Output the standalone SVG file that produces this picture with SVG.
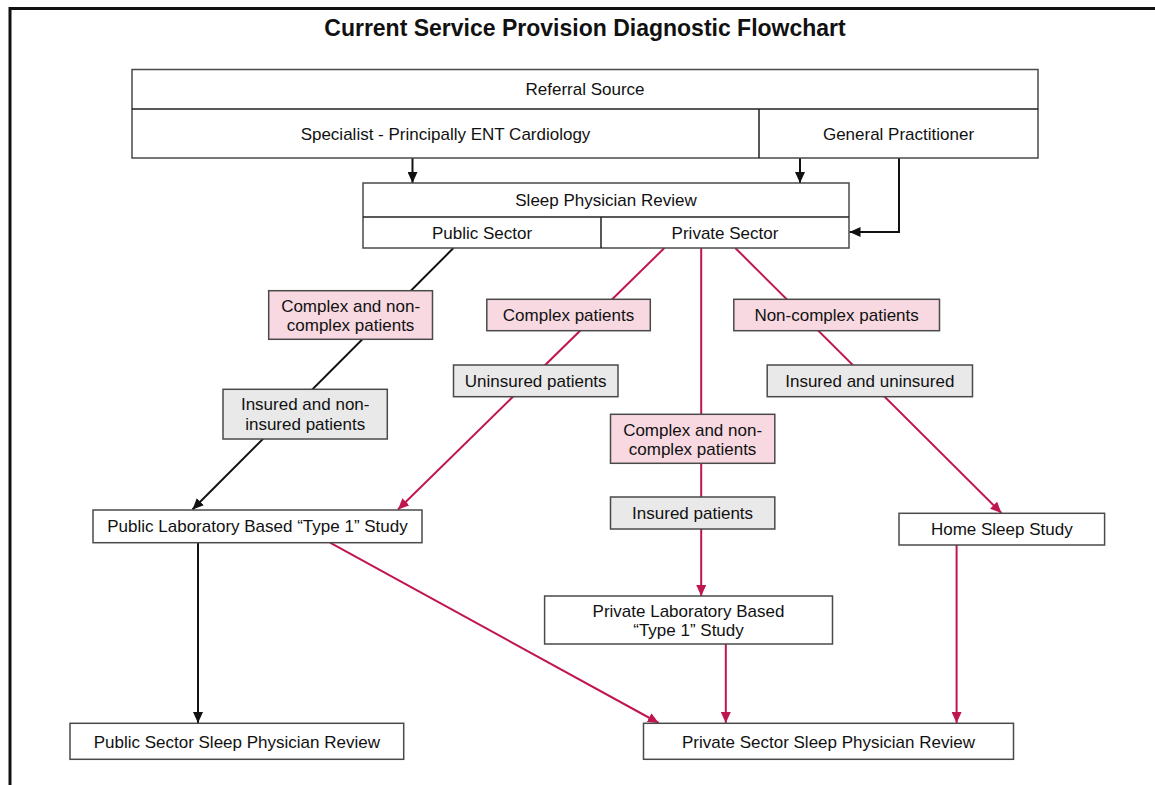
<svg xmlns="http://www.w3.org/2000/svg" width="1155" height="785" viewBox="0 0 1155 785">
  <defs>
    <marker id="ahB" markerUnits="userSpaceOnUse" markerWidth="12" markerHeight="10" viewBox="0 0 12 10" refX="11" refY="5" orient="auto">
      <path d="M0,0 L11,5 L0,10 z" fill="#111"/>
    </marker>
    <marker id="ahR" markerUnits="userSpaceOnUse" markerWidth="12" markerHeight="10" viewBox="0 0 12 10" refX="11" refY="5" orient="auto">
      <path d="M0,0 L11,5 L0,10 z" fill="#c0164e"/>
    </marker>
  </defs>
  <style>
    text { font-family: "Liberation Sans", Arial, sans-serif; font-size: 17px; fill: #111; text-anchor: middle; }
    .title { font-size: 23px; font-weight: bold; }
    .box { fill: #fff; stroke: #4a4a4a; stroke-width: 1.5; }
    .pink { fill: #f8d9e1; stroke: #4a4a4a; stroke-width: 1.5; }
    .gray { fill: #e9e9e9; stroke: #4a4a4a; stroke-width: 1.5; }
    .div { stroke: #222; stroke-width: 1.5; fill: none; }
    .cb { stroke: #111; stroke-width: 2; fill: none; marker-end: url(#ahB); }
    .cr { stroke: #c0164e; stroke-width: 2; fill: none; marker-end: url(#ahR); }
  </style>
  <rect x="0" y="0" width="1155" height="785" fill="#fff"/>
  <path d="M10,790 V8.5 H1160" fill="none" stroke="#111" stroke-width="3"/>
  <text class="title" x="585" y="36">Current Service Provision Diagnostic Flowchart</text>

  <g id="connectors">
    <path class="cb" d="M412.5,158 V183"/>
    <path class="cb" d="M800,158 V183"/>
    <path class="cb" d="M899,158 V232 H849.5"/>
    <path class="cb" d="M453.5,248 L192.5,509.5"/>
    <path class="cb" d="M198,542.7 V723"/>
    <path class="cr" d="M664.4,248 L398,509.5"/>
    <path class="cr" d="M701.2,248 V596"/>
    <path class="cr" d="M735.3,248 L1001.4,513"/>
    <path class="cr" d="M330,542.7 L658.7,723"/>
    <path class="cr" d="M725.8,644 V723"/>
    <path class="cr" d="M956.6,545 V723"/>
  </g>

  <g id="referral-source">
    <rect class="box" x="132" y="69.5" width="906" height="88.5"/>
    <path class="div" d="M132,109 H1038 M759,109 V158"/>
    <text x="585" y="95">Referral Source</text>
    <text x="445.5" y="139.5">Specialist - Principally ENT Cardiology</text>
    <text x="898.5" y="139.5">General Practitioner</text>
  </g>

  <g id="sleep-physician-review">
    <rect class="box" x="363" y="183" width="486" height="65"/>
    <path class="div" d="M363,217 H849 M601,217 V248"/>
    <text x="606" y="206">Sleep Physician Review</text>
    <text x="482" y="239">Public Sector</text>
    <text x="725" y="239">Private Sector</text>
  </g>

  <g id="public-complex">
    <rect class="pink" x="268.7" y="290.7" width="163.8" height="48.6"/>
    <text x="350.6" y="311.7">Complex and non-</text>
    <text x="350.6" y="331.3">complex patients</text>
  </g>
  <g id="public-insured">
    <rect class="gray" x="223" y="389.3" width="164.3" height="49.7"/>
    <text x="305.2" y="410.3">Insured and non-</text>
    <text x="305.2" y="430.3">insured patients</text>
  </g>
  <g id="complex-patients">
    <rect class="pink" x="486.8" y="299.3" width="163.5" height="31.4"/>
    <text x="568.5" y="321">Complex patients</text>
  </g>
  <g id="uninsured-patients">
    <rect class="gray" x="453.5" y="365" width="164.5" height="31.7"/>
    <text x="535.7" y="387">Uninsured patients</text>
  </g>
  <g id="non-complex-patients">
    <rect class="pink" x="733.8" y="299.3" width="205.7" height="31.4"/>
    <text x="836.6" y="321">Non-complex patients</text>
  </g>
  <g id="insured-and-uninsured">
    <rect class="gray" x="767.2" y="365" width="205.3" height="31.7"/>
    <text x="869.8" y="387">Insured and uninsured</text>
  </g>
  <g id="private-complex">
    <rect class="pink" x="610.5" y="414.3" width="164.3" height="49"/>
    <text x="692.6" y="436">Complex and non-</text>
    <text x="692.6" y="455.3">complex patients</text>
  </g>
  <g id="insured-patients">
    <rect class="gray" x="610.5" y="497" width="164.3" height="32"/>
    <text x="692.6" y="519">Insured patients</text>
  </g>
  <g id="public-lab-study">
    <rect class="box" x="93" y="510" width="329" height="32.7"/>
    <text x="257.5" y="532">Public Laboratory Based “Type 1” Study</text>
  </g>
  <g id="home-sleep-study">
    <rect class="box" x="899" y="513.3" width="205.6" height="31.7"/>
    <text x="1001.8" y="535">Home Sleep Study</text>
  </g>
  <g id="private-lab-study">
    <rect class="box" x="544.6" y="596" width="287.9" height="48"/>
    <text x="688.5" y="616.7">Private Laboratory Based</text>
    <text x="688.5" y="636">“Type 1” Study</text>
  </g>
  <g id="public-sector-review">
    <rect class="box" x="70" y="723.3" width="333.7" height="36"/>
    <text x="236.8" y="747.7">Public Sector Sleep Physician Review</text>
  </g>
  <g id="private-sector-review">
    <rect class="box" x="643.5" y="723.3" width="370" height="36"/>
    <text x="828.5" y="747.7">Private Sector Sleep Physician Review</text>
  </g>
</svg>
